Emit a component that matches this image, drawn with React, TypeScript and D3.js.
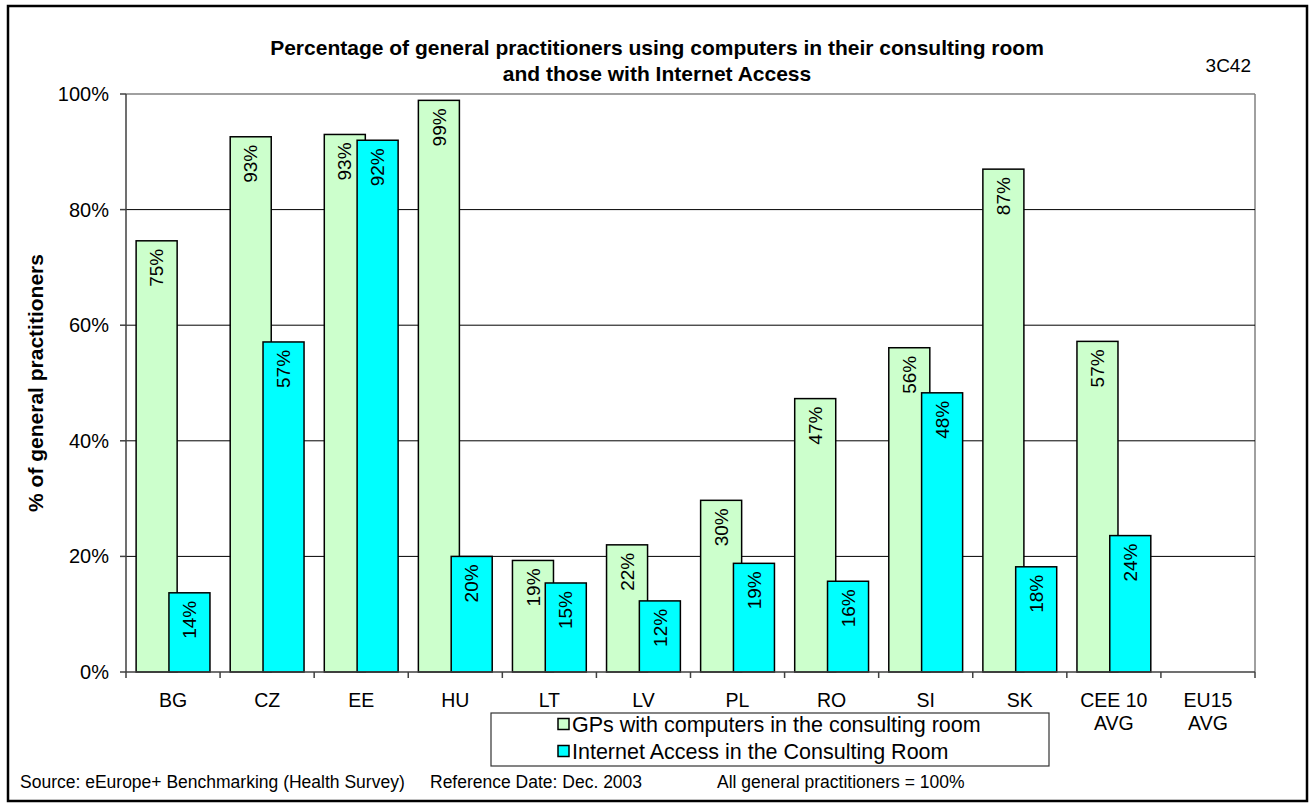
import React from "react";
import * as d3 from "d3";

// Categories along the x axis (a second line is drawn for averages)
const categories: string[][] = [
  ["BG"], ["CZ"], ["EE"], ["HU"], ["LT"], ["LV"], ["PL"], ["RO"], ["SI"], ["SK"],
  ["CEE 10", "AVG"], ["EU15", "AVG"],
];

// GPs with computers in the consulting room (%)
const computersValues: (number | null)[] = [
  74.6, 92.6, 93.0, 98.9, 19.3, 22.0, 29.7, 47.3, 56.1, 87.0, 57.2, null,
];

// Internet access in the consulting room (%)
const internetValues: (number | null)[] = [
  13.7, 57.1, 92.0, 20.0, 15.4, 12.3, 18.8, 15.7, 48.3, 18.2, 23.6, null,
];

const yTicks: number[] = [0, 20, 40, 60, 80, 100];

const seriesNames: string[] = [
  "GPs with computers in the consulting room",
  "Internet Access in the Consulting Room",
];
const seriesColors: string[] = ["#CCFFCC", "#00FFFF"];

const FONT = "'Liberation Sans', Arial, Helvetica, sans-serif";

export default function App() {
  const W = 1310;
  const H = 804;
  const plot = { left: 126, right: 1255, top: 94, bottom: 672 };

  const keys = categories.map((c) => c.join(" "));
  const x = d3.scaleBand<string>().domain(keys).range([plot.left, plot.right]).padding(0);
  const y = d3.scaleLinear().domain([0, 100]).range([plot.bottom, plot.top]);

  const bw = x.bandwidth();
  const barW = bw * 0.436;
  const overlap = barW * 0.2;
  const groupW = barW * 2 - overlap;
  const groupOffset = (bw - groupW) / 2;

  const series = [computersValues, internetValues];
  const fmt = (v: number) => `${Math.round(v)}%`;

  return (
    <svg
      width={W}
      height={H}
      style={{ position: "absolute", left: 0, top: 0, background: "#fff" }}
      fontFamily={FONT}
    >
      <rect x={0} y={0} width={W} height={H} fill="#fff" />
      {/* outer frame */}
      <rect x={8} y={6} width={1299} height={795} fill="none" stroke="#000" strokeWidth={2.5} />

      {/* title */}
      <text x={657} y={55} textAnchor="middle" fontSize={21} fontWeight="bold">
        Percentage of general practitioners using computers in their consulting room
      </text>
      <text x={657} y={81} textAnchor="middle" fontSize={21} fontWeight="bold">
        and those with Internet Access
      </text>
      <text x={1251} y={72} textAnchor="end" fontSize={19}>
        3C42
      </text>

      {/* plot area border (top & right) */}
      <line x1={plot.left} x2={plot.right} y1={plot.top} y2={plot.top} stroke="#808080" strokeWidth={1.5} />
      <line x1={plot.right} x2={plot.right} y1={plot.top} y2={plot.bottom} stroke="#808080" strokeWidth={1.5} />

      {/* gridlines */}
      {yTicks
        .filter((t) => t > 0 && t < 100)
        .map((t) => (
          <line key={t} x1={plot.left} x2={plot.right} y1={y(t)} y2={y(t)} stroke="#000" strokeWidth={1} />
        ))}

      {/* bars: first series, then second series drawn over it */}
      {series.map((vals, si) =>
        vals.map((v, i) => {
          if (v == null) return null;
          const x0 = (x(keys[i]) as number) + groupOffset + si * (barW - overlap);
          return (
            <rect
              key={`${si}-${i}`}
              x={x0}
              y={y(v)}
              width={barW}
              height={y(0) - y(v)}
              fill={seriesColors[si]}
              stroke="#000"
              strokeWidth={1.5}
            />
          );
        })
      )}

      {/* data labels */}
      {series.map((vals, si) =>
        vals.map((v, i) => {
          if (v == null) return null;
          const cx = (x(keys[i]) as number) + groupOffset + si * (barW - overlap) + barW / 2;
          const ty = y(v) + 8;
          return (
            <text
              key={`l${si}-${i}`}
              transform={`translate(${cx},${ty}) rotate(-90)`}
              textAnchor="end"
              dy="0.35em"
              fontSize={19}
            >
              {fmt(v)}
            </text>
          );
        })
      )}

      {/* y axis */}
      <line x1={plot.left} x2={plot.left} y1={plot.top} y2={plot.bottom} stroke="#404040" strokeWidth={1.5} />
      {yTicks.map((t) => (
        <g key={t}>
          <line x1={plot.left - 6} x2={plot.left} y1={y(t)} y2={y(t)} stroke="#404040" strokeWidth={1.5} />
          <text x={109} y={y(t) + 7} textAnchor="end" fontSize={20}>
            {`${t}%`}
          </text>
        </g>
      ))}

      {/* x axis */}
      <line x1={plot.left} x2={plot.right} y1={plot.bottom} y2={plot.bottom} stroke="#404040" strokeWidth={1.5} />
      {keys.map((k, i) => (
        <line
          key={`t${i}`}
          x1={x(k) as number}
          x2={x(k) as number}
          y1={plot.bottom}
          y2={plot.bottom + 6}
          stroke="#404040"
          strokeWidth={1.5}
        />
      ))}
      <line x1={plot.right} x2={plot.right} y1={plot.bottom} y2={plot.bottom + 6} stroke="#404040" strokeWidth={1.5} />
      {categories.map((lines, i) => (
        <text key={`c${i}`} x={(x(keys[i]) as number) + bw / 2} y={707} textAnchor="middle" fontSize={19.5}>
          {lines.map((ln, j) => (
            <tspan key={j} x={(x(keys[i]) as number) + bw / 2} dy={j === 0 ? 0 : 23}>
              {ln}
            </tspan>
          ))}
        </text>
      ))}

      {/* y axis title */}
      <text transform="translate(43,383) rotate(-90)" textAnchor="middle" fontSize={21} fontWeight="bold">
        % of general practitioners
      </text>

      {/* legend */}
      <rect x={491} y={713} width={558} height={53} fill="#fff" stroke="#333" strokeWidth={1.2} />
      {seriesNames.map((name, i) => {
        const cy = 724 + i * 27;
        return (
          <g key={name}>
            <rect x={558} y={cy - 5.5} width={11} height={11} fill={seriesColors[i]} stroke="#000" strokeWidth={1.5} />
            <text x={572} y={cy + 7.5} fontSize={21.5}>
              {name}
            </text>
          </g>
        );
      })}

      {/* footer */}
      <text x={20} y={788} fontSize={17.5}>
        Source: eEurope+ Benchmarking (Health Survey)
      </text>
      <text x={430} y={788} fontSize={17.5}>
        Reference Date: Dec. 2003
      </text>
      <text x={717} y={788} fontSize={17.5}>
        All general practitioners = 100%
      </text>
    </svg>
  );
}
